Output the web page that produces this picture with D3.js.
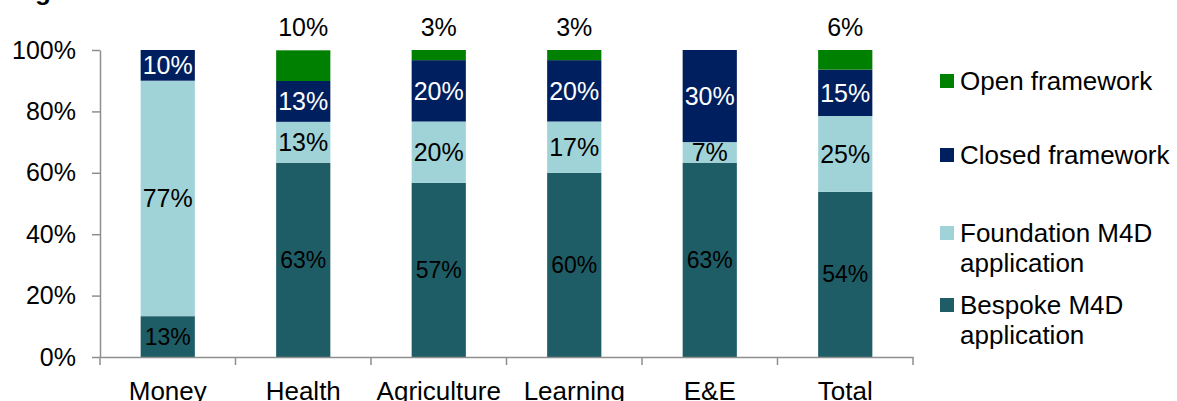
<!DOCTYPE html>
<html>
<head>
<meta charset="utf-8">
<script src="https://cdn.jsdelivr.net/npm/d3@7"></script>
<style>
  html, body { margin: 0; padding: 0; background: #fff; }
  svg { display: block; font-family: "Liberation Sans", Arial, sans-serif; }
</style>
</head>
<body>
<svg id="chart" width="1177" height="401"></svg>
<script>
const categories = ["Money", "Health", "Agriculture", "Learning", "E&E", "Total"];
const seriesNames = ["Bespoke M4D application", "Foundation M4D application", "Closed framework", "Open framework"];
const bespoke    = [13.3, 63.3, 56.7, 60.0, 63.3, 53.8];
const foundation = [76.7, 13.3, 20.0, 16.7,  6.7, 24.7];
const closed     = [10.0, 13.3, 20.0, 20.0, 30.0, 15.1];
const open       = [ 0.0, 10.0,  3.3,  3.3,  0.0,  6.4];
const yTicks = [0, 20, 40, 60, 80, 100];
const legendOrder = ["Open framework", "Closed framework", "Foundation M4D application", "Bespoke M4D application"];
const legendLines = [["Open framework"], ["Closed framework"], ["Foundation M4D", "application"], ["Bespoke M4D", "application"]];

const colors = {
  "Bespoke M4D application": "#1f5d66",
  "Foundation M4D application": "#a0d3d7",
  "Closed framework": "#001f5f",
  "Open framework": "#008000"
};
const labelColors = {
  "Bespoke M4D application": "#000",
  "Foundation M4D application": "#000",
  "Closed framework": "#fff",
  "Open framework": "#000"
};

const rows = categories.map((c, i) => ({
  cat: c,
  "Bespoke M4D application": bespoke[i],
  "Foundation M4D application": foundation[i],
  "Closed framework": closed[i],
  "Open framework": open[i]
}));

const svg = d3.select("#chart");
const axisColor = "#8e8e8e";

const x = d3.scaleBand().domain(categories).range([100, 913]).paddingInner(0.6).paddingOuter(0.3);
const y = d3.scaleLinear().domain([0, 100]).range([357, 50]);

// cut-off title
svg.append("text").attr("x", 12).attr("y", 0).attr("font-size", 26).attr("font-weight", "bold").attr("fill", "#000").text("Figure");

const stacked = d3.stack().keys(seriesNames)(rows);

const layers = svg.append("g").selectAll("g").data(stacked).join("g")
  .attr("fill", d => colors[d.key]);

layers.selectAll("rect").data(d => d.map(s => ({ s, key: d.key })).filter(o => o.s[1] - o.s[0] > 0))
  .join("rect")
  .attr("x", o => x(o.s.data.cat))
  .attr("width", x.bandwidth())
  .attr("y", o => y(o.s[1]))
  .attr("height", o => y(o.s[0]) - y(o.s[1]));

// labels
const labels = svg.append("g").attr("text-anchor", "middle");
stacked.forEach(layer => {
  layer.forEach(s => {
    const v = s[1] - s[0];
    if (v <= 0) return;
    const cx = x(s.data.cat) + x.bandwidth() / 2;
    const txt = Math.round(v) + "%";
    if (layer.key === "Open framework") {
      labels.append("text").attr("x", cx).attr("y", 36).attr("font-size", 25).attr("fill", "#000").text(txt);
    } else {
      const cy = y((s[0] + s[1]) / 2);
      const fs = layer.key === "Bespoke M4D application" ? 23 : 25;
      labels.append("text").attr("x", cx).attr("y", cy).attr("dy", "0.35em")
        .attr("font-size", fs).attr("fill", labelColors[layer.key]).text(txt);
    }
  });
});

// y axis
const yAxis = svg.append("g").attr("transform", "translate(100,0)")
  .call(d3.axisLeft(y).tickValues(yTicks).tickFormat(d => d + "%").tickSize(8).tickSizeOuter(0).tickPadding(16));
yAxis.select(".domain").attr("stroke", axisColor).attr("stroke-width", 1.5);
yAxis.selectAll(".tick line").attr("stroke", axisColor).attr("stroke-width", 1.5);
yAxis.selectAll(".tick text").attr("font-size", 25).attr("fill", "#000").attr("font-family", "Liberation Sans, Arial, sans-serif");

// x axis
const xAxis = svg.append("g").attr("transform", "translate(0,357)")
  .call(d3.axisBottom(x).tickSize(0).tickSizeOuter(0).tickPadding(25));
xAxis.select(".domain").attr("stroke", axisColor).attr("stroke-width", 1.5);
xAxis.selectAll(".tick text").attr("font-size", 26).attr("fill", "#000").attr("font-family", "Liberation Sans, Arial, sans-serif");
const gap = (x.step() - x.bandwidth()) / 2;
const bounds = categories.map(c => x(c) - gap).concat([x(categories[categories.length - 1]) + x.bandwidth() + gap]);
xAxis.selectAll("line.bound").data(bounds).join("line").attr("class", "bound")
  .attr("x1", d => d).attr("x2", d => d).attr("y1", 0).attr("y2", 8)
  .attr("stroke", axisColor).attr("stroke-width", 1.5);

// legend
const legendY = [81, 155, 233, 305];
const leg = svg.append("g");
legendOrder.forEach((name, i) => {
  leg.append("rect").attr("x", 940).attr("y", legendY[i] - 7).attr("width", 14).attr("height", 14).attr("fill", colors[name]);
  const t = leg.append("text").attr("x", 960).attr("y", legendY[i]).attr("dy", "0.35em").attr("font-size", 26).attr("fill", "#000");
  legendLines[i].forEach((ln, j) => {
    t.append("tspan").attr("x", 960).attr("dy", j === 0 ? "0.35em" : 30).text(ln);
  });
});
</script>
</body>
</html>
